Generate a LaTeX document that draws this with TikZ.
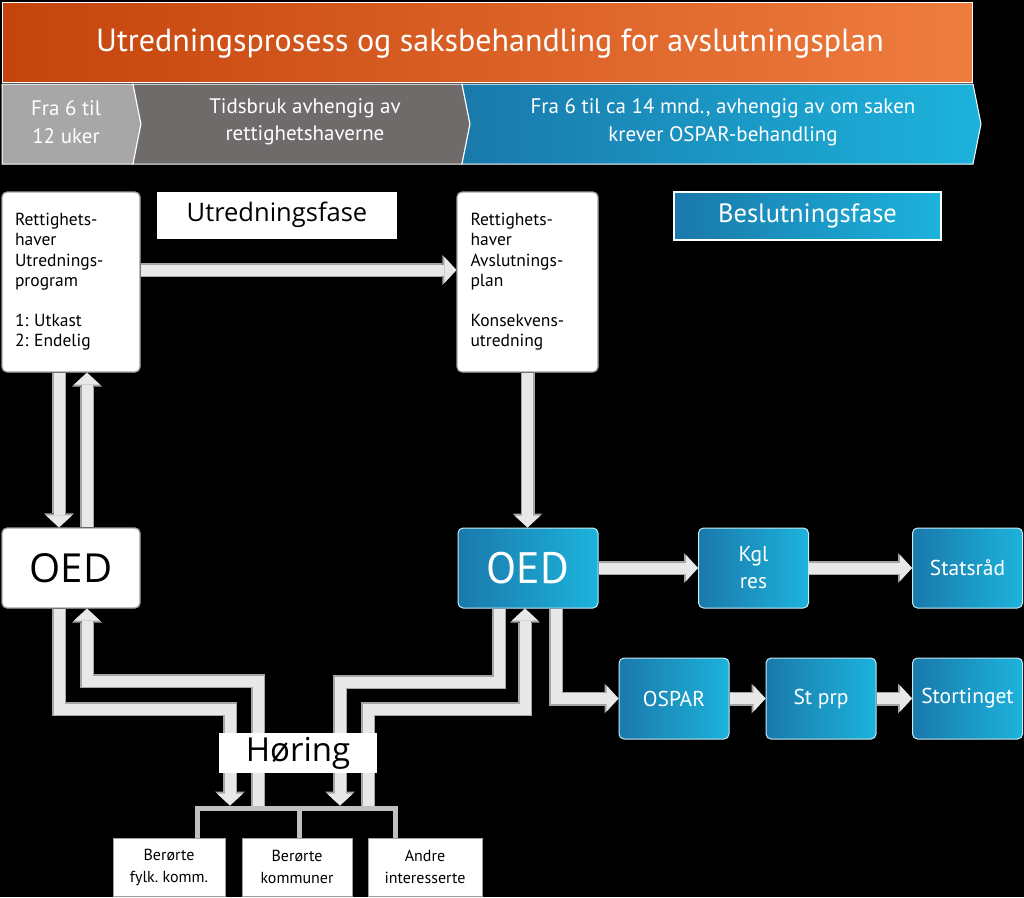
\documentclass[tikz,border=0pt]{standalone}
\usepackage{fontspec}
\setmainfont{PT Sans}
\newfontfamily\osans{Open Sans}
\usetikzlibrary{arrows.meta,calc}
\definecolor{tL}{HTML}{C4440C}
\definecolor{tR}{HTML}{EF7C3F}
\definecolor{gA}{HTML}{A7A7A7}
\definecolor{gB}{HTML}{6E6B6A}
\definecolor{bL}{HTML}{1A79AB}
\definecolor{bR}{HTML}{1CB3DC}
\definecolor{pipein}{HTML}{E8E8E8}
\definecolor{pipeedge}{HTML}{A5A5A5}
\definecolor{boxedge}{HTML}{A0A0A0}
\frenchspacing
\begin{document}
\begin{tikzpicture}[x=1pt,y=-1pt,
  wbox/.style={draw=boxedge,line width=1.2pt,fill=white,rounded corners=5pt,inner sep=0pt},
  bbox/.style={draw=white!75!bR,line width=1pt,left color=bL,right color=bR,rounded corners=5pt,inner sep=0pt,text=white},
  sqbox/.style={draw=boxedge,line width=1pt,fill=white,inner sep=0pt},
  pout/.style={draw=pipeedge,line width=14pt,line join=miter,line cap=butt},
  pin/.style={draw=pipein,line width=11pt,line join=miter,line cap=butt},
  aout/.style={pout,-{Triangle[width=30pt,length=14pt,line width=0pt]}},
  ain/.style={pin,-{Triangle[width=26pt,length=12pt,line width=0pt]}},
  bracketline/.style={draw=pipeedge!70,line width=5pt,line join=miter},
  small/.style={font=\fontsize{17.5}{20.2}\selectfont},
  mid/.style={font=\fontsize{21.5}{27}\selectfont},
  low/.style={font=\fontsize{16}{22}\selectfont},
]
\fill[black] (0,0) rectangle (1024,897);
\useasboundingbox (0,0) rectangle (1024,897);

% header
\shade[left color=tL,right color=tR,draw=white,line width=1pt] (2,2) rectangle (972,82);
\node[text=white,font=\fontsize{32}{36}\selectfont] (title) at (490,44) {Utredningsprosess og saksbehandling for avslutningsplan};
\fill[gA,draw=white,line width=1pt] (2,84) -- (133,84) -- (141,124) -- (133,164) -- (2,164) -- cycle;
\fill[gB,draw=white,line width=1pt] (133,84) -- (462,84) -- (470,124) -- (462,164) -- (133,164) -- (141,124) -- cycle;
\shade[left color=bL,right color=bR,draw=white,line width=1pt] (462,84) -- (973,84) -- (981,124) -- (973,164) -- (462,164) -- (470,124) -- cycle;
\node[text=white,align=center,font=\fontsize{21}{27.5}\selectfont] (t1) at (66,122) {Fra 6 til\\12 uker};
\node[text=white,align=center,font=\fontsize{21}{27.5}\selectfont] (t2) at (305,122) {Tidsbruk avhengig av\\rettighetshaverne};
\node[text=white,align=center,font=\fontsize{21}{27.5}\selectfont] (t3) at (723,122) {Fra 6 til ca 14 mnd., avhengig av om saken\\krever OSPAR-behandling};

% boxes
\node[wbox,small,minimum width=138pt,minimum height=180pt,text width=112pt,align=left] (boxA) at (71,282)
  {Rettighets-\\haver\\Utrednings-\\program\\[20.2pt]1: Utkast\\2: Endelig};
\node[wbox,small,minimum width=141pt,minimum height=180pt,text width=114pt,align=left] (boxB) at (527.5,282)
  {Rettighets-\\haver\\Avslutnings-\\plan\\[20.2pt]Konsekvens-\\utredning};
\node[fill=white,minimum width=240pt,minimum height=47pt,inner sep=0pt,font=\osans\fontsize{25.5}{28}\selectfont] (utr) at (277,215) {Utredningsfase};
\node[draw=white,line width=1.5pt,left color=bL,right color=bR,minimum width=267pt,minimum height=48pt,inner sep=0pt,text=white,font=\fontsize{26.5}{30}\selectfont] (besl) at (807.5,216) {Beslutningsfase};

\node[wbox,minimum width=138pt,minimum height=80pt,font=\osans\fontsize{40}{44}\selectfont] (oedL) at (71,568) {OED};
\node[bbox,minimum width=140pt,minimum height=80pt,font=\fontsize{44}{48}\selectfont] (oedR) at (528,568) {OED};
\node[bbox,mid,align=center,minimum width=110pt,minimum height=80pt] (kgl) at (753.5,568) {Kgl\\res};
\node[bbox,mid,minimum width=110pt,minimum height=80pt] (stat) at (967.5,568) {Statsråd};
\node[bbox,mid,minimum width=110pt,minimum height=81pt] (ospar) at (674,698.5) {OSPAR};
\node[bbox,mid,minimum width=110pt,minimum height=81pt] (stprp) at (821,698.5) {St prp};
\node[bbox,mid,minimum width=110pt,minimum height=81pt] (stort) at (967.5,698.5) {Stortinget};

\node[sqbox,low,align=center,minimum width=112pt,minimum height=58pt] (b1) at (169,867) {Berørte\\fylk. komm.};
\node[sqbox,low,align=center,minimum width=110pt,minimum height=58pt] (b2) at (297,867) {Berørte\\kommuner};
\node[sqbox,low,align=center,minimum width=114pt,minimum height=58pt] (b3) at (425,867) {Andre\\interesserte};

% bracket
\coordinate (brL) at (197,808);
\coordinate (brM) at (299,808);
\coordinate (brR) at (395,808);
\draw[bracketline] (brL |- b1.north) -- (brL) -- (brR) -- (brR |- b3.north);
\draw[bracketline] (brM) -- (brM |- b2.north);
\coordinate (pL1) at (230,805.5);
\coordinate (pL2) at (258,805.5);
\coordinate (pR1) at (340,805.5);
\coordinate (pR2) at (368,805.5);

% pipes with arrows
\foreach \s in {aout,ain}{
  \draw[\s] ([yshift=12pt]boxA.east) -- ([yshift=12pt]boxB.west);
  \draw[\s] ([xshift=-12pt]boxA.south) -- ([xshift=-12pt]oedL.north);
  \draw[\s] ([xshift=16pt]oedL.north) -- ([xshift=16pt]boxA.south);
  \draw[\s] (boxB.south) -- (boxB.south |- oedR.north);
  \draw[\s] (oedR.east) -- (kgl.west);
  \draw[\s] (kgl.east) -- (stat.west);
  \draw[\s] ([xshift=28pt]oedR.south) |- (ospar.west);
  \draw[\s] (ospar.east) -- (stprp.west);
  \draw[\s] (stprp.east) -- (stort.west);
  \draw[\s] ([xshift=-12pt]oedL.south) |- ($(pL1)+(0,-96.5)$) -- (pL1);
  \draw[\s] (pL2) -- ($(pL2)+(0,-124.5)$) -| ([xshift=16pt]oedL.south);
  \draw[\s] ([xshift=-29pt]oedR.south) |- ($(pR1)+(0,-123.5)$) -- (pR1);
  \draw[\s] (pR2) -- ($(pR2)+(0,-96.5)$) -| ([xshift=-3pt]oedR.south);
}

\node[fill=white,minimum width=158pt,minimum height=40pt,inner sep=0pt,font=\osans\fontsize{33}{36}\selectfont] (hor) at (298,753) {Høring};
\end{tikzpicture}
\end{document}
